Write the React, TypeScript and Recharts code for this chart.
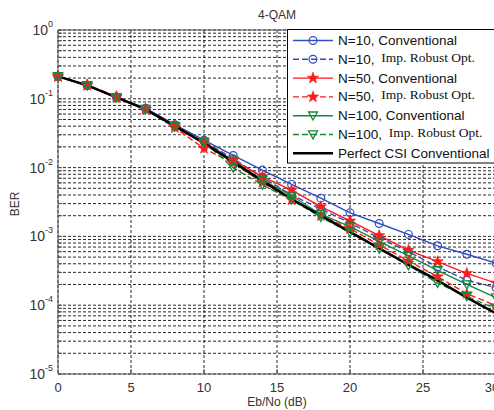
import React from 'react';
import { LineChart, Line, XAxis, YAxis, CartesianGrid, ReferenceLine } from 'recharts';

const BLUE = '#2f4fbf';
const RED = '#ff1a1a';
const GREEN = '#15893a';
const BLACK = '#000000';
const AXIS = '#555555';
const TEXT = '#333333';
const SANS = '"Liberation Sans", Arial, sans-serif';
const SERIF = '"Liberation Serif", "Times New Roman", serif';

// Eb/No points (dB)
const EBNO = [0, 2, 4, 6, 8, 10, 12, 14, 16, 18, 20, 22, 24, 26, 28, 30];

// BER curves
const N10_CONV = [0.212, 0.158, 0.106, 0.073, 0.042, 0.025, 0.015, 0.0092, 0.0057, 0.0036, 0.0022, 0.00154, 0.00107, 0.00073, 0.00055, 0.00041];
const N10_IMP = [0.212, 0.157, 0.106, 0.072, 0.041, 0.024, 0.0135, 0.0072, 0.004, 0.0025, 0.00157, 0.00095, 0.0006, 0.00036, 0.00023, 0.00018];
const N50_CONV = [0.212, 0.157, 0.105, 0.071, 0.041, 0.0234, 0.0128, 0.0074, 0.0047, 0.0027, 0.00168, 0.00103, 0.00063, 0.00043, 0.00029, 0.00021];
const N50_IMP = [0.21, 0.16, 0.108, 0.07, 0.038, 0.019, 0.0116, 0.0061, 0.0034, 0.002, 0.0013, 0.00075, 0.00044, 0.00026, 0.000147, 0.0000985];
const N100_CONV = [0.212, 0.157, 0.105, 0.071, 0.04, 0.023, 0.0125, 0.0066, 0.0039, 0.0021, 0.00139, 0.00085, 0.00052, 0.00032, 0.0002, 0.000129];
const N100_IMP = [0.21, 0.155, 0.104, 0.07, 0.039, 0.0237, 0.0099, 0.0056, 0.0034, 0.0019, 0.00114, 0.00066, 0.00038, 0.00021, 0.000134, 0.000089];
const PERFECT = [0.212, 0.157, 0.105, 0.07, 0.04, 0.0227, 0.0121, 0.0064, 0.0035, 0.002, 0.00116, 0.00067, 0.00039, 0.00023, 0.000129, 0.000076];

const X_TICKS = [0, 5, 10, 15, 20, 25, 30];
const DECADES = [-5, -4, -3, -2, -1];
const MINORS = [1, 2, 3, 4, 5, 6, 7, 8, 9];
const Y_TICKS = [...DECADES.flatMap((d) => MINORS.map((m) => m * Math.pow(10, d))), 1];

const data = EBNO.map((x, i) => ({
  ebno: x,
  n10c: N10_CONV[i],
  n10i: N10_IMP[i],
  n50c: N50_CONV[i],
  n50i: N50_IMP[i],
  n100c: N100_CONV[i],
  n100i: N100_IMP[i],
  perfect: PERFECT[i],
}));

const CircleMark = ({ cx, cy }: { cx: number; cy: number }) => (
  <circle cx={cx} cy={cy} r={3.9} fill="none" stroke={BLUE} strokeWidth={1.2} />
);

const StarMark = ({ cx, cy }: { cx: number; cy: number }) => {
  const pts: string[] = [];
  for (let k = 0; k < 10; k++) {
    const r = k % 2 === 0 ? 6 : 2.4;
    const a = -Math.PI / 2 + (k * Math.PI) / 5;
    pts.push(`${cx + r * Math.cos(a)},${cy + r * Math.sin(a)}`);
  }
  return <polygon points={pts.join(' ')} fill={RED} stroke={RED} strokeWidth={0.6} />;
};

const TriMark = ({ cx, cy }: { cx: number; cy: number }) => (
  <polygon
    points={`${cx - 4.5},${cy - 3.7} ${cx + 4.5},${cy - 3.7} ${cx},${cy + 4.3}`}
    fill="none"
    stroke={GREEN}
    strokeWidth={1.3}
  />
);

const dotOf = (Mark: React.FC<{ cx: number; cy: number }>) => (p: any) =>
  <Mark key={`m-${p.index}`} cx={p.cx} cy={p.cy} />;

const XTick = (p: any) => {
  const v = p.payload.value;
  return (
    <g>
      {v > 0 && v < 30 && <line x1={p.x} x2={p.x} y1={p.y} y2={p.y - 5} stroke={AXIS} />}
      <text x={p.x} y={p.y + 18} textAnchor="middle" fontSize={13} fontFamily={SANS} fill={TEXT}>
        {v}
      </text>
    </g>
  );
};

const YTick = (p: any) => {
  const v = p.payload.value;
  const e = Math.log10(v);
  const decade = Math.abs(e - Math.round(e)) < 1e-6;
  return (
    <g>
      <line x1={p.x} x2={p.x + 4} y1={p.y} y2={p.y} stroke={AXIS} />
      {decade && (
        <text x={p.x - 5} y={p.y + 5} textAnchor="end" fontSize={14} fontFamily={SANS} fill={TEXT}>
          <tspan>10</tspan>
          <tspan dy={-8} fontSize={9}>
            {Math.round(e)}
          </tspan>
        </text>
      )}
    </g>
  );
};

const LEGEND = [
  { main: 'N=10, Conventional', color: BLUE, dash: undefined, mark: CircleMark },
  { main: 'N=10, ', serif: 'Imp. Robust Opt.', color: BLUE, dash: '6 3', mark: CircleMark },
  { main: 'N=50, Conventional', color: RED, dash: undefined, mark: StarMark },
  { main: 'N=50, ', serif: 'Imp. Robust Opt.', color: RED, dash: '6 3', mark: StarMark },
  { main: 'N=100, Conventional', color: GREEN, dash: undefined, mark: TriMark },
  { main: 'N=100, ', serif: 'Imp. Robust Opt.', color: GREEN, dash: '6 3', mark: TriMark },
  { main: 'Perfect CSI Conventional', color: BLACK, dash: undefined, mark: null },
];

export default function App() {
  return (
    <div style={{ position: 'absolute', left: 0, top: 0, width: 494, height: 410, overflow: 'hidden', background: '#fff' }}>
      <LineChart width={500} height={410} data={data} margin={{ top: 30, right: 4, bottom: 0, left: 0 }}>
        <CartesianGrid stroke="#111" strokeDasharray="3 2" strokeWidth={0.9} />
        <XAxis
          dataKey="ebno"
          type="number"
          domain={[0, 30]}
          ticks={X_TICKS}
          height={36}
          tickSize={0}
          tickMargin={0}
          tickLine={false}
          axisLine={{ stroke: AXIS }}
          tick={<XTick />}
        />
        <YAxis
          type="number"
          scale="log"
          domain={[1e-5, 1]}
          allowDataOverflow
          ticks={Y_TICKS}
          interval={0}
          width={58}
          tickSize={0}
          tickMargin={0}
          tickLine={false}
          axisLine={{ stroke: AXIS }}
          tick={<YTick />}
        />
        <ReferenceLine y={1} stroke={AXIS} />
        <Line type="linear" dataKey="n10c" stroke={BLUE} strokeWidth={1.4} dot={dotOf(CircleMark)} isAnimationActive={false} />
        <Line type="linear" dataKey="n10i" stroke={BLUE} strokeWidth={1.4} strokeDasharray="6 3" dot={dotOf(CircleMark)} isAnimationActive={false} />
        <Line type="linear" dataKey="n50c" stroke={RED} strokeWidth={1.4} dot={dotOf(StarMark)} isAnimationActive={false} />
        <Line type="linear" dataKey="n50i" stroke={RED} strokeWidth={1.4} strokeDasharray="6 3" dot={dotOf(StarMark)} isAnimationActive={false} />
        <Line type="linear" dataKey="n100c" stroke={GREEN} strokeWidth={1.4} dot={dotOf(TriMark)} isAnimationActive={false} />
        <Line type="linear" dataKey="n100i" stroke={GREEN} strokeWidth={1.4} strokeDasharray="6 3" dot={dotOf(TriMark)} isAnimationActive={false} />
        <Line type="linear" dataKey="perfect" stroke={BLACK} strokeWidth={2.5} dot={false} isAnimationActive={false} />
      </LineChart>
      <svg width={494} height={410} style={{ position: 'absolute', left: 0, top: 0, pointerEvents: 'none' }}>
        <text x={277} y={19} textAnchor="middle" fontSize={12} fontFamily={SANS} fill={TEXT}>
          4-QAM
        </text>
        <text x={277} y={406} textAnchor="middle" fontSize={12} fontFamily={SANS} fill={TEXT}>
          Eb/No (dB)
        </text>
        <text transform="translate(19,204) rotate(-90)" textAnchor="middle" fontSize={12} fontFamily={SANS} fill={TEXT}>
          BER
        </text>
        <rect x={287.5} y={29.5} width={220} height={133.5} fill="#fff" stroke="#000" strokeWidth={1} />
        {LEGEND.map((row, i) => {
          const y = 40.5 + i * 18.8;
          const Mark = row.mark;
          return (
            <g key={row.main + i}>
              <line
                x1={293}
                x2={333}
                y1={y}
                y2={y}
                stroke={row.color}
                strokeWidth={row.mark ? 1.4 : 2.5}
                strokeDasharray={row.dash}
              />
              {Mark && <Mark cx={313} cy={y} />}
              <text x={338} y={y + 4.5} fontSize={13.5} fontFamily={SANS} fill="#111">
                <tspan style={{ whiteSpace: 'pre' }}>{row.main}</tspan>
                {row.serif && (
                  <tspan dx={3} dy={-2} fontFamily={SERIF} fontSize={13.5}>
                    {row.serif}
                  </tspan>
                )}
              </text>
            </g>
          );
        })}
      </svg>
    </div>
  );
}
